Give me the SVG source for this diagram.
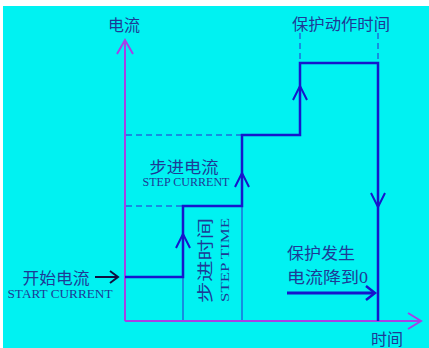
<svg xmlns="http://www.w3.org/2000/svg" width="429" height="348" viewBox="0 0 429 348">
<defs>
<style>
.cn{font-family:"Liberation Serif","Noto Sans CJK SC",serif;fill:#1e3a96;font-size:16px}
.en{font-family:"Liberation Serif","Noto Sans CJK SC",serif;fill:#1e3a96;font-size:12px}
.axis{stroke:#a640e6;stroke-width:2;fill:none}
.step{stroke:#1616cc;stroke-width:2.5;fill:none}
.thin{stroke:#2a2ad0;stroke-width:1;fill:none}
.dash{stroke:#2a2ad0;stroke-width:1;fill:none;stroke-dasharray:6 4}
.chev{stroke:#1616cc;stroke-width:2;fill:none}
</style>
</defs>
<rect x="0" y="0" width="429" height="348" fill="#ffffff"/>
<rect x="3" y="6" width="426" height="342" fill="#00f2f2"/>

<g id="guides">
<line class="dash" x1="126" y1="135" x2="242" y2="135"/>
<line class="dash" x1="126" y1="206" x2="183" y2="206"/>
<line class="thin" x1="183" y1="277" x2="183" y2="320"/>
<line class="thin" x1="242" y1="206" x2="242" y2="320"/>
<line class="dash" x1="300" y1="33" x2="300" y2="63"/>
<line class="dash" x1="378" y1="33" x2="378" y2="63"/>
</g>

<g id="axes">
<line class="axis" x1="125" y1="321" x2="125" y2="40"/>
<polyline class="axis" points="117,54 125,40 133,54"/>
<line class="axis" x1="125" y1="321" x2="420" y2="321"/>
<polyline class="axis" points="408,313 421,321 408,329"/>
</g>

<g id="connectors">
<polyline class="step" points="125,277 183,277 183,206 242,206 242,135 300,135 300,63 378,63 378,321"/>
<polyline class="chev" points="176,248 183,234 190,248"/>
<polyline class="chev" points="235,187 242,173 249,187"/>
<polyline class="chev" points="293,100 300,86 307,100"/>
<polyline class="chev" points="371,193 378,207 385,193"/>
<line stroke="#101040" stroke-width="2" x1="95" y1="277" x2="117" y2="277"/>
<polyline fill="none" stroke="#101040" stroke-width="2" points="110,271 118,277 110,283"/>
<line stroke="#1616cc" stroke-width="3" x1="287" y1="293" x2="374" y2="293"/>
<polyline fill="none" stroke="#1616cc" stroke-width="2.5" points="366,286 375,293 366,300"/>
</g>

<g id="label-y"><text class="cn" x="124" y="31" text-anchor="middle">电流</text></g>
<g id="label-x"><text class="cn" x="387" y="345" text-anchor="middle">时间</text></g>
<g id="label-protect-time"><text class="cn" x="341" y="30" text-anchor="middle" font-size="17" textLength="98" lengthAdjust="spacingAndGlyphs">保护动作时间</text></g>
<g id="label-step-current">
<text class="cn" x="184" y="173" text-anchor="middle" textLength="69" lengthAdjust="spacingAndGlyphs">步进电流</text>
<text class="en" x="186" y="186" text-anchor="middle" textLength="87" lengthAdjust="spacingAndGlyphs">STEP CURRENT</text>
</g>
<g id="label-start-current">
<text class="cn" x="56" y="284" text-anchor="middle" textLength="67" lengthAdjust="spacingAndGlyphs">开始电流</text>
<text class="en" x="60" y="298" text-anchor="middle" textLength="105" lengthAdjust="spacingAndGlyphs">START CURRENT</text>
</g>
<g id="label-step-time">
<text class="cn" x="211" y="303" font-size="14" transform="rotate(-90 211 303)" textLength="85" lengthAdjust="spacingAndGlyphs">步进时间</text>
<text class="en" x="229" y="302" font-size="10" transform="rotate(-90 229 302)" textLength="84" lengthAdjust="spacingAndGlyphs">STEP TIME</text>
</g>
<g id="label-trip">
<text class="cn" x="287" y="259" textLength="68" lengthAdjust="spacingAndGlyphs">保护发生</text>
<text class="cn" x="287" y="283" textLength="81" lengthAdjust="spacingAndGlyphs">电流降到0</text>
</g>
</svg>
